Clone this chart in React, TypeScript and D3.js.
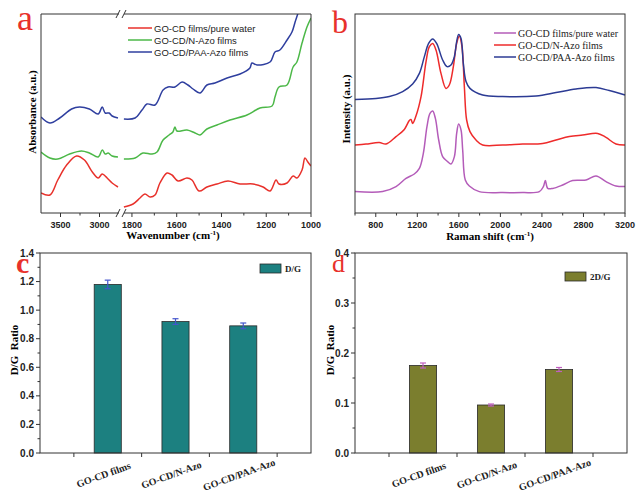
// Four-panel figure: FTIR (a), Raman (b) and D/G, 2D/G ratio bars (c, d)
import * as d3 from 'd3';

const SANS = "'Liberation Sans', Arial, sans-serif";
const SERIF = "'Liberation Serif', 'Times New Roman', serif";

// ---- panel a: FTIR, broken wavenumber axis [wavenumber, absorbance a.u.]
const ftirPureLeft: [number, number][] = [[3750, 10], [3636, 9], [3535, 16.5], [3421, 24], [3294, 28.5], [3193, 26.5], [3092, 20.5], [3016, 17.5], [2965, 19.5], [2902, 17.5], [2838, 15], [2763, 13]];
const ftirPureRight: [number, number][] = [[1836, 3], [1795, 4.5], [1764, 7.5], [1742, 9.5], [1719, 8], [1697, 9], [1675, 15], [1643, 20], [1621, 19], [1594, 16], [1554, 17.5], [1532, 16.5], [1500, 11], [1465, 13], [1420, 14.5], [1371, 16], [1317, 14.5], [1259, 14.5], [1214, 13], [1183, 11], [1156, 16.5], [1143, 14.5], [1107, 15], [1080, 18.5], [1063, 17.5], [1040, 21.5], [1027, 27.5], [1014, 25.5], [1000, 23.5]];
const ftirNAzoLeft: [number, number][] = [[3750, 30.5], [3636, 27.5], [3535, 27], [3383, 29.5], [3231, 31], [3130, 30], [3016, 28], [2965, 31.5], [2927, 29.5], [2889, 30], [2838, 28.5], [2763, 28]];
const ftirNAzoRight: [number, number][] = [[1836, 27], [1786, 27.5], [1751, 30], [1710, 29.5], [1688, 30.5], [1661, 36.5], [1634, 39], [1617, 40.5], [1608, 43], [1599, 41], [1554, 41.5], [1518, 40], [1496, 39], [1465, 42], [1420, 44], [1362, 46.5], [1286, 49], [1228, 52.5], [1174, 53.5], [1161, 58], [1143, 63], [1107, 64], [1080, 73], [1063, 75.5], [1040, 85], [1018, 93], [1000, 97.5]];
const ftirPaaLeft: [number, number][] = [[3750, 48], [3636, 45], [3510, 47.5], [3358, 52], [3256, 53], [3130, 52], [3016, 49.5], [2965, 53], [2927, 50], [2877, 50], [2838, 48.5], [2763, 47.5]];
const ftirPaaRight: [number, number][] = [[1836, 47], [1786, 47.5], [1755, 51.5], [1733, 54.5], [1697, 54], [1661, 61.5], [1639, 63], [1608, 63], [1576, 65.5], [1550, 64], [1527, 62], [1496, 60], [1465, 64], [1429, 65], [1375, 67.5], [1317, 69.5], [1273, 72.5], [1264, 75], [1241, 74], [1183, 75.5], [1161, 80.5], [1139, 81.5], [1107, 86.5], [1085, 90.5], [1071, 95.5], [1058, 100], [1040, 108]];
const ftirLeftMajor = [3500, 3000];
const ftirLeftMinor = [3250];
const ftirRightMajor = [1800, 1600, 1400, 1200, 1000];
const ftirRightMinor = [1700, 1500, 1300, 1100];

// ---- panel b: Raman [shift, intensity a.u.]
const ramanPure: [number, number][] = [[600, 10.7], [866, 10.7], [995, 13.2], [1091, 17.3], [1171, 19.5], [1220, 22.3], [1258, 29.8], [1293, 43.2], [1322, 49.8], [1348, 51], [1374, 47.3], [1406, 36.5], [1444, 28.2], [1492, 25.7], [1524, 24.5], [1557, 28.2], [1579, 39.8], [1598, 44.5], [1621, 41.5], [1637, 31.5], [1662, 16.5], [1701, 13.5], [1797, 10.7], [2022, 10.2], [2215, 10.2], [2375, 10.7], [2414, 13.2], [2433, 16.2], [2456, 12.3], [2504, 12.3], [2600, 14], [2696, 16.2], [2825, 16.5], [2921, 18.5], [3017, 15.7], [3113, 13.5], [3200, 13.2]];
const ramanNAzo: [number, number][] = [[600, 34], [706, 34.5], [834, 35.2], [899, 34.5], [995, 38.2], [1075, 41.8], [1123, 46.2], [1139, 46.8], [1155, 44.8], [1187, 48.5], [1236, 58.2], [1284, 75.7], [1316, 83.2], [1348, 84.8], [1380, 81.5], [1428, 69.8], [1476, 62.3], [1508, 64], [1547, 73.2], [1579, 84.8], [1605, 88.5], [1630, 83.2], [1653, 63.2], [1675, 46.5], [1707, 40.7], [1765, 36.5], [1829, 34], [2022, 34], [2215, 34.5], [2407, 34.8], [2536, 36.5], [2664, 38.2], [2792, 39], [2937, 39.8], [3017, 37.8], [3113, 34.5], [3200, 34]];
const ramanPaa: [number, number][] = [[600, 56.8], [802, 57.2], [931, 58.2], [1059, 60.7], [1155, 64.5], [1220, 69.8], [1268, 78.2], [1309, 84.8], [1348, 87], [1386, 84.8], [1444, 76.5], [1486, 73.2], [1524, 74], [1557, 78.2], [1579, 85.7], [1598, 89.3], [1621, 87.3], [1643, 74.8], [1669, 65.7], [1707, 62.3], [1829, 59], [2022, 58.2], [2343, 58.5], [2536, 60.2], [2728, 62], [2921, 62.7], [3049, 61.2], [3200, 59]];
const ramanMajor = [800, 1200, 1600, 2000, 2400, 2800, 3200];
const ramanMinor = [600, 1000, 1400, 1800, 2200, 2600, 3000];

// ---- panels c, d: ratios
const samples = ['GO-CD films', 'GO-CD/N-Azo', 'GO-CD/PAA-Azo'];
const dgRatio = [1.18, 0.92, 0.89];
const dgError = [0.03, 0.02, 0.02];
const twoDgRatio = [0.175, 0.096, 0.167];
const twoDgError = [0.005, 0.002, 0.004];

const PLOT_TOP = 14;
const PLOT_BOTTOM = 213;

const spectrumY = d3.scaleLinear().domain([0, 99.5]).range([PLOT_BOTTOM, PLOT_TOP]);

const Superscript = () => (
  <>
    <tspan dy={-4} fontSize={7}>-1</tspan>
    <tspan dy={4}>)</tspan>
  </>
);

const BottomTicks = ({ scale, major, minor, y }: { scale: (v: number) => number; major: number[]; minor: number[]; y: number }) => (
  <g>
    {major.map(t => (
      <g key={'M' + t}>
        <line x1={scale(t)} x2={scale(t)} y1={y} y2={y + 4} stroke="#333" />
        <text x={scale(t)} y={y + 15} textAnchor="middle" fontFamily={SANS} fontWeight="bold" fontSize={9} fill="#222">{t}</text>
      </g>
    ))}
    {minor.map(t => (
      <line key={'m' + t} x1={scale(t)} x2={scale(t)} y1={y} y2={y + 2.5} stroke="#333" />
    ))}
  </g>
);

const PanelA = () => {
  const x0 = 41, xBreakL = 119, xBreakR = 124, x1 = 311;
  const xLeft = d3.scaleLinear().domain([3750, 2750]).range([x0, xBreakL]);
  const xRight = d3.scaleLinear().domain([1840, 1000]).range([xBreakR - 1, x1]);
  const lineL = d3.line<[number, number]>().x(d => xLeft(d[0])).y(d => spectrumY(d[1])).curve(d3.curveCatmullRom);
  const lineR = d3.line<[number, number]>().x(d => xRight(d[0])).y(d => spectrumY(d[1])).curve(d3.curveCatmullRom);
  const series = [
    { name: 'GO-CD films/pure water', color: '#e8312b', left: ftirPureLeft, right: ftirPureRight },
    { name: 'GO-CD/N-Azo films', color: '#4cb848', left: ftirNAzoLeft, right: ftirNAzoRight },
    { name: 'GO-CD/PAA-Azo films', color: '#2f3f9f', left: ftirPaaLeft, right: ftirPaaRight },
  ];
  const breakMark = (y: number) => (
    <g stroke="#333" strokeWidth={1}>
      <line x1={xBreakL - 3} y1={y + 4} x2={xBreakL + 1} y2={y - 4} />
      <line x1={xBreakR - 2} y1={y + 4} x2={xBreakR + 2} y2={y - 4} />
    </g>
  );
  return (
    <g>
      <defs>
        <clipPath id="clipA">
          <rect x={x0} y={PLOT_TOP} width={x1 - x0} height={PLOT_BOTTOM - PLOT_TOP} />
        </clipPath>
      </defs>
      <g clipPath="url(#clipA)" fill="none" strokeWidth={1.5}>
        {series.map(s => (
          <g key={s.name} stroke={s.color}>
            <path d={lineL(s.left) || ''} />
            <path d={lineR(s.right) || ''} />
          </g>
        ))}
      </g>
      {/* frame with gap at the axis break */}
      <g stroke="#333" strokeWidth={1} fill="none">
        <line x1={x0} x2={x0} y1={PLOT_TOP} y2={PLOT_BOTTOM} />
        <line x1={x1} x2={x1} y1={PLOT_TOP} y2={PLOT_BOTTOM} />
        <line x1={x0} x2={xBreakL} y1={PLOT_TOP} y2={PLOT_TOP} />
        <line x1={xBreakR} x2={x1} y1={PLOT_TOP} y2={PLOT_TOP} />
        <line x1={x0} x2={xBreakL} y1={PLOT_BOTTOM} y2={PLOT_BOTTOM} />
        <line x1={xBreakR} x2={x1} y1={PLOT_BOTTOM} y2={PLOT_BOTTOM} />
      </g>
      {breakMark(PLOT_TOP)}
      {breakMark(PLOT_BOTTOM)}
      <BottomTicks scale={xLeft} major={ftirLeftMajor} minor={ftirLeftMinor} y={PLOT_BOTTOM} />
      <BottomTicks scale={xRight} major={ftirRightMajor} minor={ftirRightMinor} y={PLOT_BOTTOM} />
      <text x={173} y={239} textAnchor="middle" fontFamily={SERIF} fontWeight="bold" fontSize={11}>
        Wavenumber (cm<Superscript />
      </text>
      <text transform="translate(36,112) rotate(-90)" textAnchor="middle" fontFamily={SERIF} fontWeight="bold" fontSize={11}>
        Absorbance (a.u.)
      </text>
      {series.map((s, i) => (
        <g key={'lg' + s.name}>
          <line x1={128} x2={152} y1={28 + i * 12} y2={28 + i * 12} stroke={s.color} strokeWidth={1.5} />
          <text x={154} y={31.5 + i * 12} fontFamily={SANS} fontSize={9.5} fill="#222">{s.name}</text>
        </g>
      ))}
      <text x={17} y={30} fontFamily={SERIF} fontSize={36} fill="#e8312b">a</text>
    </g>
  );
};

const PanelB = () => {
  const x0 = 355, x1 = 625;
  const x = d3.scaleLinear().domain([600, 3200]).range([x0, x1]);
  const line = d3.line<[number, number]>().x(d => x(d[0])).y(d => spectrumY(d[1])).curve(d3.curveCatmullRom);
  const series = [
    { name: 'GO-CD films/pure water', color: '#b45cb9', data: ramanPure },
    { name: 'GO-CD/N-Azo films', color: '#ee2b2b', data: ramanNAzo },
    { name: 'GO-CD/PAA-Azo films', color: '#2c3b94', data: ramanPaa },
  ];
  return (
    <g>
      <g fill="none" strokeWidth={1.5}>
        {series.map(s => <path key={s.name} d={line(s.data) || ''} stroke={s.color} />)}
      </g>
      <rect x={x0} y={PLOT_TOP} width={x1 - x0} height={PLOT_BOTTOM - PLOT_TOP} fill="none" stroke="#333" />
      <BottomTicks scale={x} major={ramanMajor} minor={ramanMinor} y={PLOT_BOTTOM} />
      <text x={490} y={240} textAnchor="middle" fontFamily={SERIF} fontWeight="bold" fontSize={11}>
        Raman shift (cm<Superscript />
      </text>
      <text transform="translate(350,109) rotate(-90)" textAnchor="middle" fontFamily={SERIF} fontWeight="bold" fontSize={11}>
        Intensity (a.u.)
      </text>
      {series.map((s, i) => (
        <g key={'lg' + s.name}>
          <line x1={494} x2={516} y1={33 + i * 12} y2={33 + i * 12} stroke={s.color} strokeWidth={1.5} />
          <text x={518} y={36.5 + i * 12} fontFamily={SERIF} fontSize={10} fill="#222">{s.name}</text>
        </g>
      ))}
      <text x={332} y={33} fontFamily={SERIF} fontSize={32} fill="#e8312b">b</text>
    </g>
  );
};

interface RatioPanelProps {
  x0: number;
  x1: number;
  values: number[];
  errors: number[];
  yMax: number;
  majorStep: number;
  fill: string;
  errColor: string;
  legend: string;
  legendX: number;
  legendY: number;
  letter: string;
  letterX: number;
  letterY: number;
  letterSize: number;
  letterBold: boolean;
  titleX: number;
}

const RatioPanel = (p: RatioPanelProps) => {
  const top = 253, bottom = 453;
  const x = d3.scaleLinear().domain([0, 4]).range([p.x0, p.x1]);
  const y = d3.scaleLinear().domain([0, p.yMax]).range([bottom, top]);
  const nMajor = Math.round(p.yMax / p.majorStep);
  const major = d3.range(nMajor + 1).map(i => i * p.majorStep);
  const minor = d3.range(nMajor).map(i => (i + 0.5) * p.majorStep);
  const barW = x(1.4) - x(1);
  const catTicks = [0.5, 1.5, 2.5, 3.5];
  return (
    <g>
      {p.values.map((v, i) => (
        <g key={samples[i]}>
          <rect x={x(i + 1) - barW / 2} y={y(v)} width={barW} height={bottom - y(v)} fill={p.fill} stroke="#2a2a2a" strokeWidth={0.8} />
          <g stroke={p.errColor} strokeWidth={1.2}>
            <line x1={x(i + 1)} x2={x(i + 1)} y1={y(v + p.errors[i])} y2={y(v - p.errors[i])} />
            <line x1={x(i + 1) - 3} x2={x(i + 1) + 3} y1={y(v + p.errors[i])} y2={y(v + p.errors[i])} />
            <line x1={x(i + 1) - 3} x2={x(i + 1) + 3} y1={y(v - p.errors[i])} y2={y(v - p.errors[i])} />
          </g>
          <text transform={`translate(${x(i + 1) - 3},${478}) rotate(-20)`} textAnchor="middle" fontFamily={SERIF} fontWeight="bold" fontSize={10} fill="#222">
            {samples[i]}
          </text>
        </g>
      ))}
      <rect x={p.x0} y={top} width={p.x1 - p.x0} height={bottom - top} fill="none" stroke="#333" />
      {major.map(t => (
        <g key={'M' + t}>
          <line x1={p.x0 - 4} x2={p.x0} y1={y(t)} y2={y(t)} stroke="#333" />
          <text x={p.x0 - 6} y={y(t) + 3.5} textAnchor="end" fontFamily={SANS} fontWeight="bold" fontSize={10} fill="#222">{d3.format('.1f')(t)}</text>
        </g>
      ))}
      {minor.map(t => (
        <line key={'m' + t} x1={p.x0 - 2.5} x2={p.x0} y1={y(t)} y2={y(t)} stroke="#333" />
      ))}
      {catTicks.map(t => (
        <line key={'c' + t} x1={x(t)} x2={x(t)} y1={bottom} y2={bottom + 4} stroke="#333" />
      ))}
      <text transform={`translate(${p.titleX},${350}) rotate(-90)`} textAnchor="middle" fontFamily={SERIF} fontWeight="bold" fontSize={11} xmlSpace="preserve">
        D/G  Ratio
      </text>
      <rect x={p.legendX} y={p.legendY} width={21} height={9} fill={p.fill} stroke="#2a2a2a" strokeWidth={0.8} />
      <text x={p.legendX + 25} y={p.legendY + 8} fontFamily={SERIF} fontWeight="bold" fontSize={9} fill="#222">{p.legend}</text>
      <text x={p.letterX} y={p.letterY} fontFamily={SERIF} fontSize={p.letterSize} fontWeight={p.letterBold ? 'bold' : 'normal'} fill="#e8312b">{p.letter}</text>
    </g>
  );
};

const App = () => (
  <div style={{ position: 'absolute', left: 0, top: 0 }}>
    <svg width={636} height={498} style={{ display: 'block', background: '#fff' }}>
      <PanelA />
      <PanelB />
      <RatioPanel x0={40} x1={311} values={dgRatio} errors={dgError} yMax={1.4} majorStep={0.2}
        fill="#1c8080" errColor="#4455cc" legend="D/G" legendX={260} legendY={264}
        letter="c" letterX={16} letterY={273} letterSize={30} letterBold={true} titleX={18} />
      <RatioPanel x0={355} x1={627} values={twoDgRatio} errors={twoDgError} yMax={0.4} majorStep={0.1}
        fill="#7b7e2e" errColor="#c060c0" legend="2D/G" legendX={565} legendY={272}
        letter="d" letterX={332} letterY={272} letterSize={26} letterBold={false} titleX={334} />
    </svg>
  </div>
);

export default App;
